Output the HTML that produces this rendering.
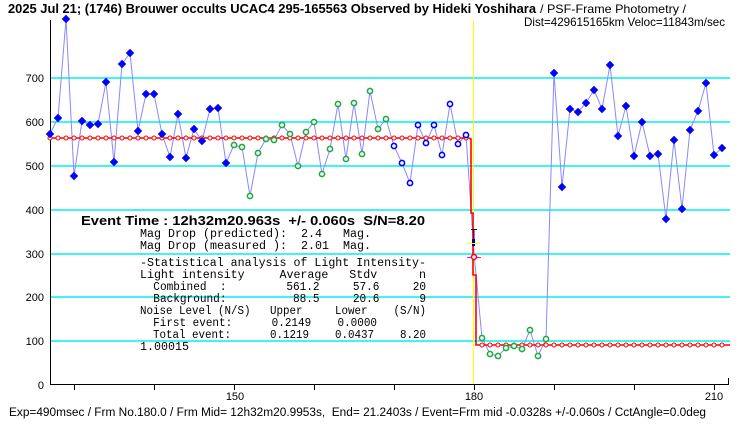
<!DOCTYPE html>
<html><head><meta charset="utf-8"><style>
html,body{margin:0;padding:0;background:#fff;width:740px;height:425px;overflow:hidden}
svg{display:block}
text{font-family:"Liberation Sans","Noto Sans CJK JP",sans-serif}
.m{font-family:"Liberation Mono","Noto Sans CJK JP",monospace;font-size:11.5px;white-space:pre}
</style></head><body>
<svg id="s" width="740" height="425" viewBox="0 0 740 425" xmlns="http://www.w3.org/2000/svg">
<g stroke="#00f0f0" stroke-width="1.5">
<line x1="50" y1="78" x2="730" y2="78"/><line x1="50" y1="122" x2="730" y2="122"/>
<line x1="50" y1="166" x2="730" y2="166"/><line x1="50" y1="210" x2="730" y2="210"/>
<line x1="50" y1="254" x2="730" y2="254"/><line x1="50" y1="297" x2="730" y2="297"/>
<line x1="50" y1="341" x2="730" y2="341"/>
</g>
<line x1="473.5" y1="20" x2="473.5" y2="385" stroke="#ffff00" stroke-width="1"/>
<g stroke="#000" stroke-width="1">
<line x1="50.5" y1="20" x2="50.5" y2="385"/><line x1="50" y1="384.5" x2="729" y2="384.5"/>
<line x1="728.5" y1="378" x2="728.5" y2="385"/>
<line x1="74.5" y1="385" x2="74.5" y2="390"/><line x1="154.5" y1="385" x2="154.5" y2="390"/>
<line x1="234.5" y1="385" x2="234.5" y2="390"/><line x1="314.5" y1="385" x2="314.5" y2="390"/>
<line x1="394.5" y1="385" x2="394.5" y2="390"/><line x1="474.5" y1="385" x2="474.5" y2="390"/>
<line x1="554.5" y1="385" x2="554.5" y2="390"/><line x1="634.5" y1="385" x2="634.5" y2="390"/>
<line x1="714.5" y1="385" x2="714.5" y2="390"/>
</g>
<g font-size="11" text-anchor="end" fill="#000">
<text x="44" y="82">700</text><text x="44" y="126">600</text><text x="44" y="170">500</text>
<text x="44" y="214">400</text><text x="44" y="258">300</text><text x="44" y="301">200</text>
<text x="44" y="345">100</text><text x="44" y="389">0</text>
</g>
<g font-size="11" text-anchor="middle"><text x="235" y="400">150</text><text x="474" y="400">180</text><text x="714" y="400">210</text></g>
<g id="data"></g>
<text x="8" y="13" font-size="12.5" font-weight="bold" textLength="528" lengthAdjust="spacingAndGlyphs">2025 Jul 21; (1746) Brouwer occults UCAC4 295-165563 Observed by Hideki Yoshihara</text>
<text x="540" y="13" font-size="12" textLength="146" lengthAdjust="spacingAndGlyphs">/ PSF-Frame Photometry /</text>
<text x="524" y="26" font-size="12" textLength="201" lengthAdjust="spacingAndGlyphs">Dist=429615165km Veloc=11843m/sec</text>
<text x="81" y="225" font-size="12.5" font-weight="bold" style="white-space:pre" textLength="344" lengthAdjust="spacingAndGlyphs">Event Time : 12h32m20.963s  +/- 0.060s  S/N=8.20</text>
<text class="m" x="140" y="237" textLength="231" lengthAdjust="spacingAndGlyphs">Mag Drop (predicted):  2.4   Mag.</text>
<text class="m" x="140" y="249" textLength="231" lengthAdjust="spacingAndGlyphs">Mag Drop (measured ):  2.01  Mag.</text>
<text class="m" x="140" y="266" textLength="286" lengthAdjust="spacingAndGlyphs">-Statistical analysis of Light Intensity-</text>
<text class="m" x="140" y="278" textLength="286" lengthAdjust="spacingAndGlyphs">Light intensity     Average   Stdv      n</text>
<text class="m" x="140" y="290" textLength="286" lengthAdjust="spacingAndGlyphs">  Combined  :         561.2     57.6     20</text>
<text class="m" x="140" y="302" textLength="286" lengthAdjust="spacingAndGlyphs">  Background:          88.5     20.6      9</text>
<text class="m" x="140" y="314" textLength="286" lengthAdjust="spacingAndGlyphs">Noise Level (N/S)   Upper     Lower    (S/N)</text>
<text class="m" x="140" y="326" textLength="237" lengthAdjust="spacingAndGlyphs">  First event:      0.2149    0.0000</text>
<text class="m" x="140" y="338" textLength="286" lengthAdjust="spacingAndGlyphs">  Total event:      0.1219    0.0437    8.20</text>
<text class="m" x="140" y="350" textLength="49" lengthAdjust="spacingAndGlyphs">1.00015</text>
<text x="9" y="416" font-size="11.5" style="white-space:pre" textLength="697" lengthAdjust="spacingAndGlyphs">Exp=490msec / Frm No.180.0 / Frm Mid= 12h32m20.9953s,  End= 21.2403s / Event=Frm mid -0.0328s +/-0.060s / CctAngle=0.0deg</text>
</svg>
<script>
var A=[[50,134],[58,118],[66,19],[74,176],[82,121],[90,125],[98,124],[106,82],[114,162],[122,64],[130,53],[138,131],[146,94],[154,94],[162,134],[170,157],[178,114],[186,158],[194,129],[202,141],[210,109],[218,108],[226,163]];
var G=[[234,145],[242,147],[250,196],[258,153],[266,139],[274,140],[282,125],[290,134],[298,166],[306,132],[314,122],[322,174],[330,149],[338,104],[346,159],[354,103],[362,154],[370,91],[378,129],[386,119]];
var H=[[394,146],[402,163],[410,183],[418,125],[426,143],[434,125],[442,155],[450,104],[458,144],[466,135]];
var L=[[482,338],[490,354],[498,356],[506,348],[514,346],[522,349],[530,330],[538,356],[546,339]];
var B=[[554,73],[562,187],[570,109],[578,112],[586,103],[594,90],[602,109],[610,65],[618,136],[626,106],[634,156],[642,122],[650,156],[658,154],[666,219],[674,140],[682,209],[690,130],[698,111],[706,83],[714,155],[722,148]];
var all=A.concat(G,H,[[474,253]],L,B);
var s='<polyline fill="none" stroke="#8888ff" stroke-width="1" points="'+all.map(p=>p.join(',')).join(' ')+'"/>';
s+='<polyline fill="none" stroke="#ff0000" stroke-width="1.6" points="50,138 469,138 471,139 471,213 473,213 473,275 476,275 476,345 730,345"/>';
for(var x=50;x<=466;x+=8)s+='<circle cx="'+x+'" cy="138" r="2" fill="#fff" stroke="#f00" stroke-width="1"/>';
for(var x=482;x<=722;x+=8)s+='<circle cx="'+x+'" cy="345" r="2" fill="#fff" stroke="#f00" stroke-width="1"/>';
A.concat(B).forEach(p=>{s+='<rect x="'+(p[0]-3)+'" y="'+(p[1]-3)+'" width="6" height="6" fill="#0000ff" transform="rotate(45 '+p[0]+' '+p[1]+')"/>';});
G.concat(L).forEach(p=>{s+='<circle cx="'+p[0]+'" cy="'+p[1]+'" r="2.6" fill="#fff" stroke="#22aa44" stroke-width="1.6"/>';});
H.forEach(p=>{s+='<circle cx="'+p[0]+'" cy="'+p[1]+'" r="2.6" fill="#fff" stroke="#0000ff" stroke-width="1.6"/>';});
s+='<line x1="471" y1="229.5" x2="477" y2="229.5" stroke="#000080"/><line x1="474" y1="229" x2="474" y2="245" stroke="#000080"/><rect x="472" y="239" width="3" height="7" fill="#000080"/>';
s+='<line x1="467" y1="243.5" x2="480" y2="243.5" stroke="#ffff00"/><line x1="467" y1="257.5" x2="481" y2="257.5" stroke="#ff00ff"/>';
s+='<circle cx="474" cy="257" r="2.5" fill="#fff" stroke="#f00" stroke-width="1.5"/>';
document.getElementById('data').innerHTML=s;
</script>
</body></html>
